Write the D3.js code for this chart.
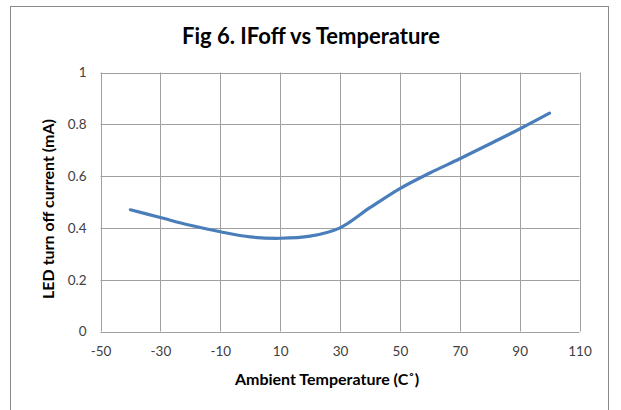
<!DOCTYPE html>
<html>
  <head>
    <meta charset="utf-8" />
    <title>Fig 6. IFoff vs Temperature</title>
    <script src="https://d3js.org/d3.v7.min.js"></script>
    <style>
      body { margin: 0; background: #fff; }
      svg text { font-family: Lato, "Open Sans", sans-serif; }
    </style>
  </head>
  <body>
    <svg width="621" height="410"></svg>

    <script>
      // data
      const temperature = [-40, -30, -20, -10, 0, 10, 20, 30, 40, 50, 60, 70, 80, 90, 100];
      const ifoff = [0.47, 0.44, 0.41, 0.385, 0.365, 0.36, 0.368, 0.4, 0.478, 0.552, 0.612, 0.667, 0.724, 0.782, 0.843];
      const xTicks = [-50, -30, -10, 10, 30, 50, 70, 90, 110];
      const yTicks = [0, 0.2, 0.4, 0.6, 0.8, 1];

      const svg = d3.select("svg");

      // chart frame
      svg.append("rect")
        .attr("x", 10.5).attr("y", 6.5)
        .attr("width", 598).attr("height", 420)
        .attr("fill", "none")
        .attr("stroke", "#898989");

      const plotLeft = 100.5, plotRight = 579.5, plotTop = 72.5, plotBottom = 331.5;

      const x = d3.scaleLinear().domain([-50, 110]).range([plotLeft, plotRight]);
      const y = d3.scaleLinear().domain([0, 1]).range([plotBottom, plotTop]);

      // gridlines
      const xGrid = d3.range(-50, 111, 20);
      svg.append("g")
        .selectAll("line")
        .data(xGrid)
        .enter()
        .append("line")
        .attr("x1", d => Math.round(x(d)) + 0.5).attr("x2", d => Math.round(x(d)) + 0.5)
        .attr("y1", plotTop).attr("y2", plotBottom)
        .attr("stroke", "#a0a0a0");

      svg.append("g")
        .selectAll("line")
        .data(yTicks)
        .enter()
        .append("line")
        .attr("x1", plotLeft).attr("x2", plotRight)
        .attr("y1", d => Math.round(y(d)) + 0.5).attr("y2", d => Math.round(y(d)) + 0.5)
        .attr("stroke", "#a0a0a0");

      // axes (labels only, Excel style, plain hyphen for negatives)
      const xAxis = svg.append("g")
        .attr("transform", `translate(0,${plotBottom})`)
        .call(d3.axisBottom(x).tickValues(xTicks).tickSize(0).tickPadding(15).tickFormat(d => String(d)));
      xAxis.select(".domain").remove();
      xAxis.selectAll("text").style("font-size", "13.5px").attr("fill", "#404040");

      const yAxis = svg.append("g")
        .attr("transform", `translate(${plotLeft},0)`)
        .call(d3.axisLeft(y).tickValues(yTicks).tickSize(0).tickPadding(14).tickFormat(d => String(d)));
      yAxis.select(".domain").remove();
      yAxis.selectAll("text").style("font-size", "13.5px").attr("fill", "#404040");

      // the curve
      const line = d3.line()
        .x((d, i) => x(temperature[i]))
        .y(d => y(d))
        .curve(d3.curveCatmullRom.alpha(0.5));

      svg.append("path")
        .datum(ifoff)
        .attr("d", line)
        .attr("fill", "none")
        .attr("stroke", "#4a7ebb")
        .attr("stroke-width", 3.2)
        .attr("stroke-linecap", "round");

      // titles
      svg.append("text")
        .text("Fig 6. IFoff vs Temperature")
        .attr("x", 311).attr("y", 44)
        .attr("text-anchor", "middle")
        .style("font-size", "22px")
        .style("font-weight", "bold")
        .style("fill", "#000");

      svg.append("text")
        .text("Ambient Temperature  (C˚)")
        .attr("x", 327).attr("y", 385)
        .attr("text-anchor", "middle")
        .style("font-size", "16px")
        .style("font-weight", "bold")
        .style("fill", "#000");

      svg.append("text")
        .text("LED turn off current (mA)")
        .attr("transform", "translate(54,209) rotate(-90)")
        .attr("text-anchor", "middle")
        .style("font-size", "16px")
        .style("font-weight", "bold")
        .style("fill", "#000");
    </script>
  </body>
</html>
